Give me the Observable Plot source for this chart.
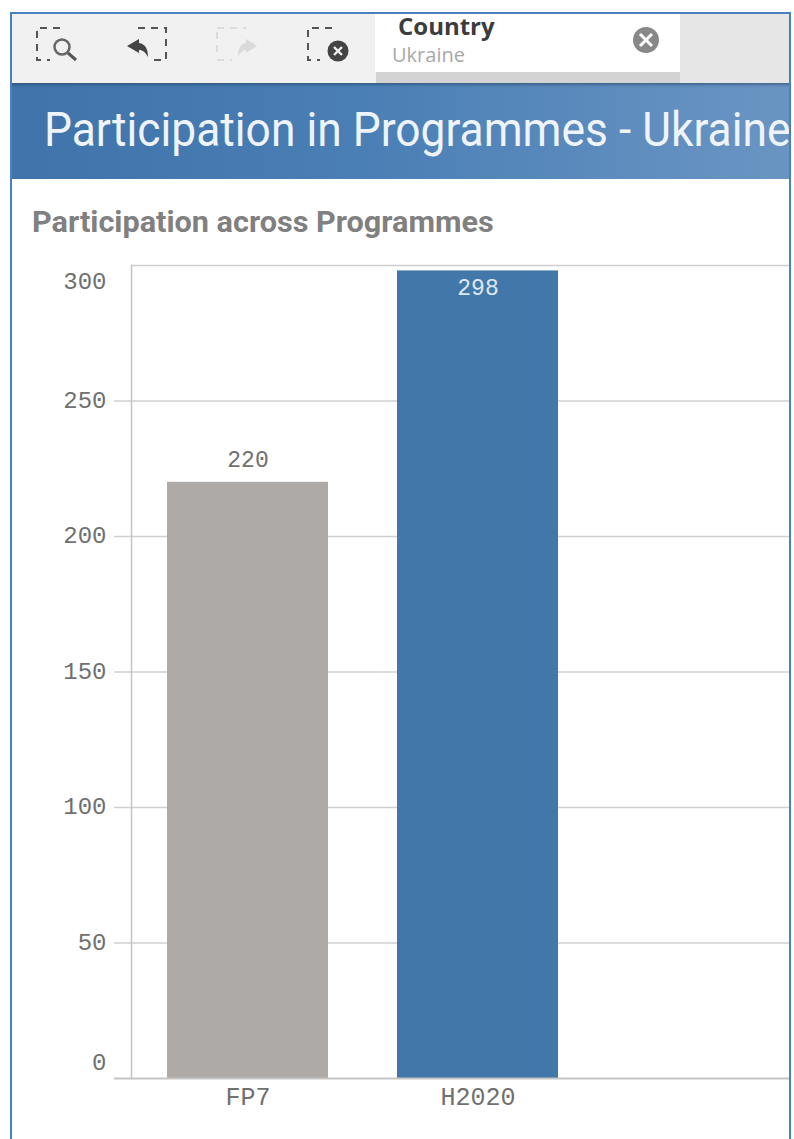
<!DOCTYPE html>
<html><head><meta charset="utf-8">
<script src="https://cdn.jsdelivr.net/npm/d3@7"></script>
<script src="https://cdn.jsdelivr.net/npm/@observablehq/plot@0.6"></script>
<style>
html,body{margin:0;padding:0;background:#fff;width:794px;height:1139px;overflow:hidden}
#page{position:relative;width:794px;height:1139px;overflow:hidden}
#page>*{position:absolute}
#frame{left:10px;top:12px;width:781px;height:1127px;box-sizing:border-box;border:2px solid #4a80c2;border-bottom:none;pointer-events:none;z-index:5}
#bar{left:10px;top:12px;width:781px;height:71px;background:#f1f1f1}
#right{left:680px;top:12px;width:111px;height:71px;background:#e6e6e6}
#chip{left:375px;top:12px;width:305px;height:60px;background:#fff}
#chipShadow{left:376px;top:72px;width:304px;height:11px;background:#d3d3d3}
#header{left:10px;top:83px;width:781px;height:96px;background:linear-gradient(90deg,#3f73a9 0%,#4a7fb5 45%,#6a95c3 100%);box-shadow:inset 0 3px 3px -1px rgba(40,70,100,.55)}
#hTitle{left:44px;top:100px;font:400 48px/60px Roboto,sans-serif;color:#eef4fa;white-space:nowrap;transform-origin:0 50%;transform:scaleX(.924)}
#cTitle{left:32px;top:204px;font:700 29px/36px Roboto,sans-serif;color:#808080;white-space:nowrap;transform-origin:0 50%;transform:scaleX(1.056)}
#country{left:398px;top:11px;font:700 24px/30px "Open Sans",sans-serif;color:#3c3c3c;white-space:nowrap}
#ukraine{left:392px;top:42px;font:400 20px/26px "Open Sans",sans-serif;color:#a8a8a8;white-space:nowrap}
#icons{left:0;top:0}
#chart{left:0;top:180px}
</style></head>
<body>
<div id="page">
<div id="bar"></div><div id="right"></div><div id="chip"></div><div id="chipShadow"></div>
<svg id="icons" width="794" height="83" viewBox="0 0 794 83">
 <g fill="none" stroke="#555" stroke-width="2" stroke-dasharray="7 6">
  <path d="M60 28H37V60H50"/><path d="M138 28H166V60H150"/><path d="M332 28H308V60H320"/>
 </g>
 <path d="M217 28H246M217 60H232M217 32V55" fill="none" stroke="#dcdcdc" stroke-width="2" stroke-dasharray="7 6"/>
 <circle cx="62" cy="47" r="7.5" fill="none" stroke="#666" stroke-width="2.5"/>
 <path d="M68 53L76 60" stroke="#555" stroke-width="3"/>
 <path d="M127 46L139 39V43C146 44 148 50 148 57C145 52 143 50 139 50V53Z" fill="#444"/>
 <path d="M257 46L246 39V43C240 44 238 50 238 56C241 52 243 50 246 50V53Z" fill="#dadada"/>
 <circle cx="338" cy="51" r="10.5" fill="#444"/>
 <path d="M334 47L342 55M342 47L334 55" stroke="#f1f1f1" stroke-width="2.4"/>
 <circle cx="646" cy="40" r="13" fill="#888"/>
 <path d="M640 34L652 46M652 34L640 46" stroke="#fff" stroke-width="3"/>
</svg>
<div id="country">Country</div><div id="ukraine">Ukraine</div>
<div id="header"></div>
<div id="hTitle">Participation in Programmes - Ukraine</div>
<div id="cTitle">Participation across Programmes</div>
<div id="chart"></div>
<div id="frame"></div>
</div>
<script>
const programmes = ["FP7", "H2020"];
const participations = [220, 298];
const barColors = ["#aeaaa8", "#4277aa"];
const midTicks = [50, 100, 150, 200, 250];
const topTick = [300];
const baseTick = [0];

const rows = programmes.map((p, i) => ({programme: p, value: participations[i]}));
const monoFont = '"Liberation Mono", "DejaVu Sans Mono", monospace';
const tickStyle = {fontFamily: monoFont, fontSize: 24, fill: "#707070"};

const chart = Plot.plot({
  width: 794, height: 959,
  marginTop: 85, marginBottom: 61, marginLeft: 114, marginRight: 3,
  style: {background: "transparent", overflow: "visible"},
  x: {domain: programmes, range: [132, 593], paddingInner: 0.3, paddingOuter: 0.15, label: null},
  y: {domain: [0, 300], range: [898, 85], label: null},
  color: {domain: programmes, range: barColors},
  marks: [
    Plot.ruleY(midTicks, {stroke: "#cfcfcf", strokeWidth: 1.5}),
    Plot.ruleY(topTick, {stroke: "#cfcfcf", strokeWidth: 1.5, insetLeft: 17}),
    Plot.frame({anchor: "left", insetLeft: 17, stroke: "#c4c4c4", strokeWidth: 1.5}),
    Plot.barY(rows, {x: "programme", y: "value", fill: "programme"}),
    Plot.ruleY(baseTick, {stroke: "#c4c4c4", strokeWidth: 2}),
    Plot.axisY({ticks: midTicks, tickSize: 0, tickPadding: 8, dy: -1, ...tickStyle}),
    Plot.axisY({ticks: topTick, tickSize: 0, tickPadding: 8, dy: 16, ...tickStyle}),
    Plot.axisY({ticks: baseTick, tickSize: 0, tickPadding: 8, dy: -16, ...tickStyle}),
    Plot.axisX({tickSize: 0, tickPadding: 9, ...tickStyle, fontSize: 25}),
    Plot.text([rows[0]], {x: "programme", y: "value", text: d => String(d.value), dy: -23, fontFamily: monoFont, fontSize: 23, fill: "#707070"}),
    Plot.text([rows[1]], {x: "programme", y: "value", text: d => String(d.value), dy: 17, fontFamily: monoFont, fontSize: 23, fill: "#dfe8f2"})
  ]
});
document.getElementById("chart").appendChild(chart);
</script>
</body></html>
